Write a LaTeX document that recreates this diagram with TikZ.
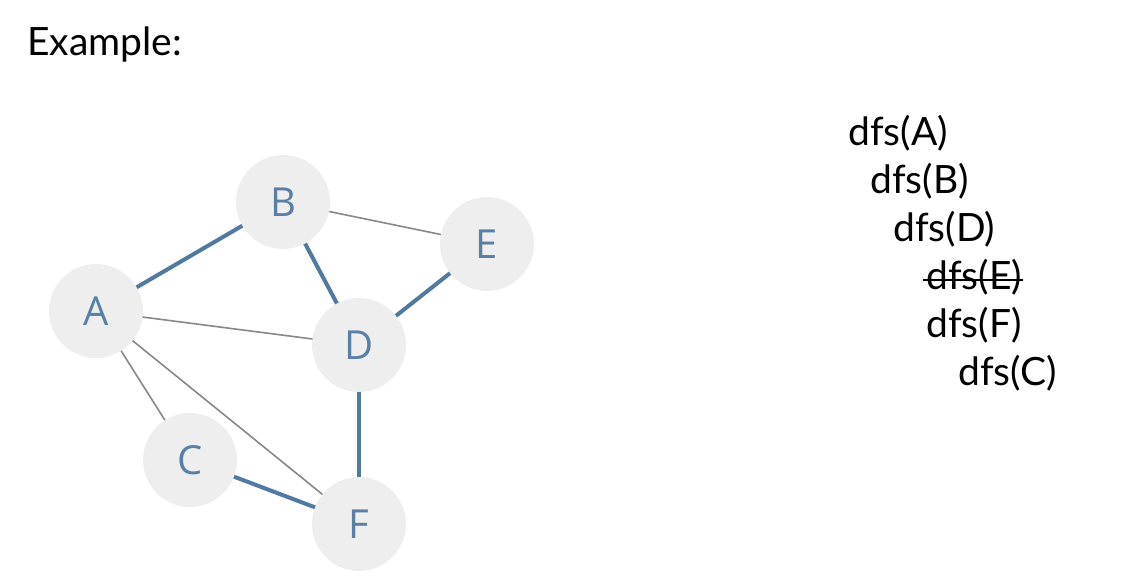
\documentclass[tikz,border=0pt]{standalone}
\usepackage{fontspec}
\setmainfont{Lato}
\newfontfamily\nodefont{Open Sans}
\usetikzlibrary{calc}
\definecolor{nodefill}{HTML}{EEEEEE}
\definecolor{nodetext}{HTML}{5A7FA6}
\definecolor{treeedge}{HTML}{52799F}
\definecolor{otheredge}{HTML}{888888}
\begin{document}
\begin{tikzpicture}[x=1pt,y=-1pt,
  vert/.style={circle,fill=nodefill,minimum size=94pt,inner sep=0pt,text=nodetext,font=\nodefont\fontsize{40}{40}\selectfont},
  tree/.style={draw=treeedge,line width=4pt},
  other/.style={draw=otheredge,line width=1.6pt},
  txt/.style={anchor=base west,inner sep=0pt,font=\fontsize{39}{39}\selectfont}]
\useasboundingbox (0,0) rectangle (1135,587);
\node[txt] (title) at (27,55) {Example:};
% edges first, nodes drawn on top
\coordinate (pA) at (96,311);
\coordinate (pB) at (283,202);
\coordinate (pE) at (487,244);
\coordinate (pD) at (359,345);
\coordinate (pC) at (190,460);
\coordinate (pF) at (359,524);
\draw[other] (pB) -- (pE);
\draw[other] (pA) -- (pD);
\draw[other] (pA) -- (pC);
\draw[other] (pA) -- (pF);
\draw[tree] (pA) -- (pB);
\draw[tree] (pB) -- (pD);
\draw[tree] (pD) -- (pE);
\draw[tree] (pD) -- (pF);
\draw[tree] (pC) -- (pF);
\node[vert] (A) at (pA) {A};
\node[vert] (B) at (pB) {B};
\node[vert] (E) at (pE) {E};
\node[vert] (D) at (pD) {D};
\node[vert] (C) at (pC) {C};
\node[vert] (F) at (pF) {F};
% call trace
\node[txt] (ta) at (848,145) {dfs(A)};
\node[txt] (tb) at (870,193) {dfs(B)};
\node[txt] (td) at (893,241) {dfs(D)};
\node[txt] (te) at (926,289) {dfs(E)};
\node[txt] (tf) at (926,337) {dfs(F)};
\node[txt] (tc) at (958,385) {dfs(C)};
\draw[line width=2.6pt] ($(te.base west)+(-3,-9)$) -- ($(te.base east)+(1,-9)$);
\end{tikzpicture}
\end{document}
